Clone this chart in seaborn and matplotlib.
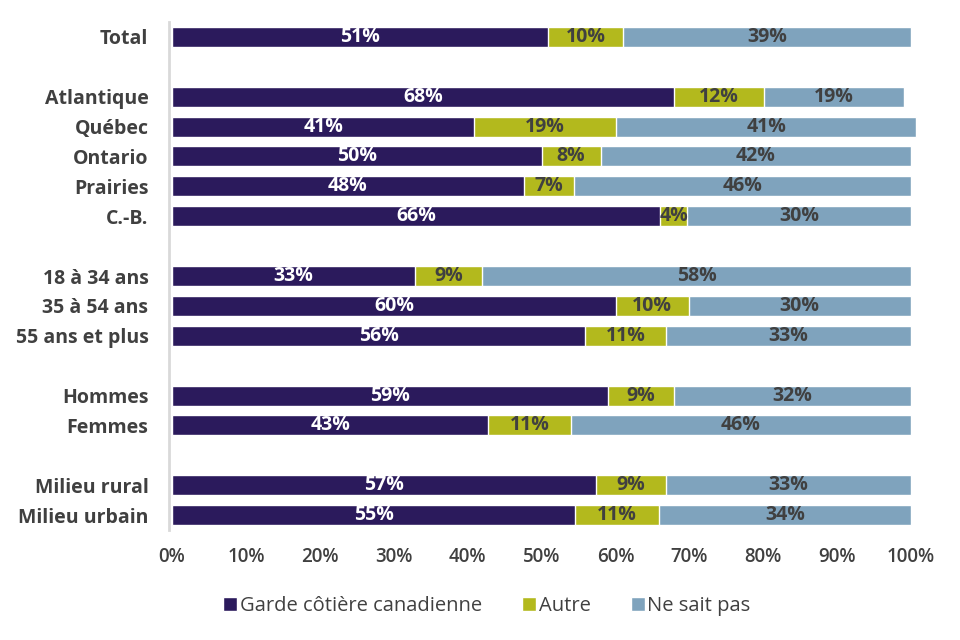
import matplotlib
matplotlib.use("Agg")
import matplotlib.pyplot as plt
import seaborn as sns
import pandas as pd
from matplotlib.patches import Patch

categories = ["Total", " ", "Atlantique", "Québec", "Ontario", "Prairies", "C.-B.", "  ",
              "18 à 34 ans", "35 à 54 ans", "55 ans et plus", "   ",
              "Hommes", "Femmes", "    ", "Milieu rural", "Milieu urbain"]
rows = ["Total", "Atlantique", "Québec", "Ontario", "Prairies", "C.-B.",
        "18 à 34 ans", "35 à 54 ans", "55 ans et plus",
        "Hommes", "Femmes", "Milieu rural", "Milieu urbain"]
garde = [50.9, 67.9, 40.9, 50.0, 47.6, 66.1, 32.9, 60.1, 55.9, 59.0, 42.8, 57.4, 54.6]
autre = [10.1, 12.2, 19.2, 8.0, 6.8, 3.6, 9.1, 9.8, 10.9, 8.9, 11.2, 9.4, 11.3]
nsp = [39.0, 19.0, 40.6, 42.0, 45.6, 30.3, 58.0, 30.1, 33.2, 32.1, 46.0, 33.2, 34.1]
series = ["Garde côtière canadienne", "Autre", "Ne sait pas"]
xticks = [0, 10, 20, 30, 40, 50, 60, 70, 80, 90, 100]

colors = ["#2B1A5C", "#B3B91D", "#7FA3BD"]
text_colors = ["white", "#404040", "#404040"]

sns.set_theme(style="white")
plt.rcParams["font.family"] = ["Open Sans", "DejaVu Sans"]

fig = plt.figure(figsize=(9.6, 6.4), dpi=100)
ax = fig.add_axes([172/960, 1-530/640, (911-172)/960, (530-22)/640])

df = pd.DataFrame({"cat": rows, "g": garde, "a": autre, "n": nsp})
df["c1"] = df["g"]
df["c2"] = df["g"] + df["a"]
df["c3"] = df["g"] + df["a"] + df["n"]

for col, color in zip(["c3", "c2", "c1"], colors[::-1]):
    sns.barplot(data=df, x=col, y="cat", order=categories, orient="h",
                color=color, width=0.67, saturation=1, ax=ax, errorbar=None)
for p in ax.patches:
    p.set_clip_on(False)

for _, r in df.iterrows():
    y = categories.index(r["cat"])
    starts = [0, r["g"], r["g"] + r["a"]]
    vals = [r["g"], r["a"], r["n"]]
    for s, v, tc in zip(starts, vals, text_colors):
        ax.text(s + v / 2, y, f"{v:.0f}%", ha="center", va="center", color=tc,
                fontsize=14, fontweight="bold")

ax.set_xlim(0, 100)
ax.set_ylim(16.5, -0.5)
ax.tick_params(axis="x", length=0, pad=12, labelsize=13.5, labelcolor="#404040")
ax.tick_params(axis="y", length=0, pad=15, labelsize=14, labelcolor="#404040")
ax.set_xticks(xticks)
ax.set_xticklabels([f"{t}%" for t in xticks])
ax.set_yticks(range(len(categories)))
ax.set_yticklabels(categories)
ax.set_xlabel("")
ax.set_ylabel("")
for s in ["top", "right", "bottom"]:
    ax.spines[s].set_visible(False)
ax.spines["left"].set_color("#D9D9D9")
ax.spines["left"].set_linewidth(2)
ax.spines["left"].set_position(("outward", 2))

handles = [Patch(facecolor=c, label=l) for c, l in zip(colors, series)]
fig.legend(handles=handles, loc="center", bbox_to_anchor=(487/960, 1-606/640),
           ncol=3, frameon=False, fontsize=14.5, handlelength=0.7, handleheight=0.7,
           handletextpad=0.12, columnspacing=2.0, labelcolor="#404040")

fig.canvas.draw()
for lab in ax.get_yticklabels():
    lab.set_fontweight("bold")
    lab.set_fontsize(14)
for lab in ax.get_xticklabels():
    lab.set_fontweight("semibold")
    lab.set_fontsize(13.5)

fig.savefig("out.png", dpi=100)
